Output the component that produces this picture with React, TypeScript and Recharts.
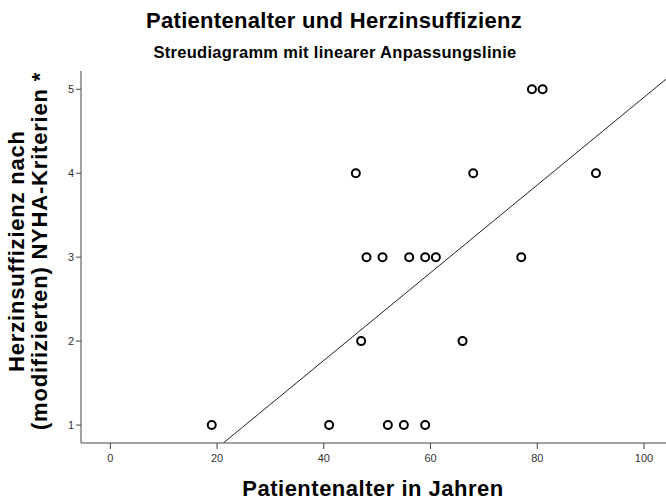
import React from 'react'
import { ScatterChart, Scatter, XAxis, YAxis } from 'recharts'

// Alter (Jahre) und NYHA-Klasse je Patient
const ages = [19, 41, 52, 55, 59, 47, 66, 48, 51, 56, 59, 61, 77, 46, 68, 91, 79, 81]
const nyha = [1, 1, 1, 1, 1, 2, 2, 3, 3, 3, 3, 3, 3, 4, 4, 4, 5, 5]

// Endpunkte der Anpassungslinie
const fitAges = [21.25, 104.5]
const fitNyha = [0.79, 5.14]

const xTicks = [0, 20, 40, 60, 80, 100]
const yTicks = [1, 2, 3, 4, 5]

const points = ages.map((a, i) => ({ x: a, y: nyha[i] }))
const fitLine = fitAges.map((a, i) => ({ x: a, y: fitNyha[i] }))

const font = '"Liberation Sans", Arial, sans-serif'
const axisColor = '#444'

const Ring = (props: any) => (
  <circle cx={props.cx} cy={props.cy} r={4} fill="none" stroke="#000" strokeWidth={2} />
)

export default function App() {
  return (
    <div style={{ position: 'absolute', left: 0, top: 0, width: 666, height: 501, overflow: 'hidden', background: '#fff', fontFamily: font }}>
      <div style={{ position: 'absolute', left: 0, top: 8, width: 668, textAlign: 'center', fontSize: 22, letterSpacing: 0.3, fontWeight: 'bold', color: '#000' }}>
        Patientenalter und Herzinsuffizienz
      </div>
      <div style={{ position: 'absolute', left: 0, top: 43, width: 670, textAlign: 'center', fontSize: 16.5, letterSpacing: 0.3, fontWeight: 'bold', color: '#000' }}>
        Streudiagramm mit linearer Anpassungslinie
      </div>

      <ScatterChart width={670} height={501} margin={{ top: 71, right: 2, bottom: 0, left: 0 }}>
        <XAxis
          xAxisId="top"
          orientation="top"
          type="number"
          dataKey="x"
          domain={[-5.5, 104.5]}
          allowDataOverflow
          height={0}
          tick={false}
          tickLine={false}
          axisLine={{ stroke: axisColor }}
        />
        <XAxis
          type="number"
          dataKey="x"
          domain={[-5.5, 104.5]}
          ticks={xTicks}
          allowDataOverflow
          height={58}
          tickSize={6}
          tickMargin={5}
          axisLine={{ stroke: axisColor }}
          tickLine={{ stroke: axisColor }}
          tick={{ fontSize: 11, fill: '#333', fontFamily: font }}
        />
        <YAxis
          type="number"
          dataKey="y"
          domain={[0.786, 5.218]}
          ticks={yTicks}
          allowDataOverflow
          width={81}
          tickSize={5}
          axisLine={{ stroke: axisColor }}
          tickLine={{ stroke: axisColor }}
          tick={{ fontSize: 11, fill: '#333', fontFamily: font }}
        />
        <Scatter
          xAxisId={0}
          data={fitLine}
          line={{ stroke: '#222', strokeWidth: 1 }}
          shape={() => <g />}
          isAnimationActive={false}
        />
        <Scatter xAxisId={0} data={points} shape={Ring} isAnimationActive={false} />
      </ScatterChart>

      <div style={{ position: 'absolute', left: 0, top: 476, width: 746, textAlign: 'center', fontSize: 22, letterSpacing: 0.5, fontWeight: 'bold', color: '#000' }}>
        Patientenalter in Jahren
      </div>
      <div
        style={{
          position: 'absolute',
          left: 29 - 190,
          top: 251 - 24,
          width: 380,
          height: 48,
          lineHeight: '23px',
          textAlign: 'center',
          fontSize: 22,
          letterSpacing: 0.8,
          fontWeight: 'bold',
          color: '#000',
          transform: 'rotate(-90deg)',
        }}
      >
        Herzinsuffizienz nach
        <br />
        (modifizierten) NYHA-Kriterien *
      </div>
    </div>
  )
}
